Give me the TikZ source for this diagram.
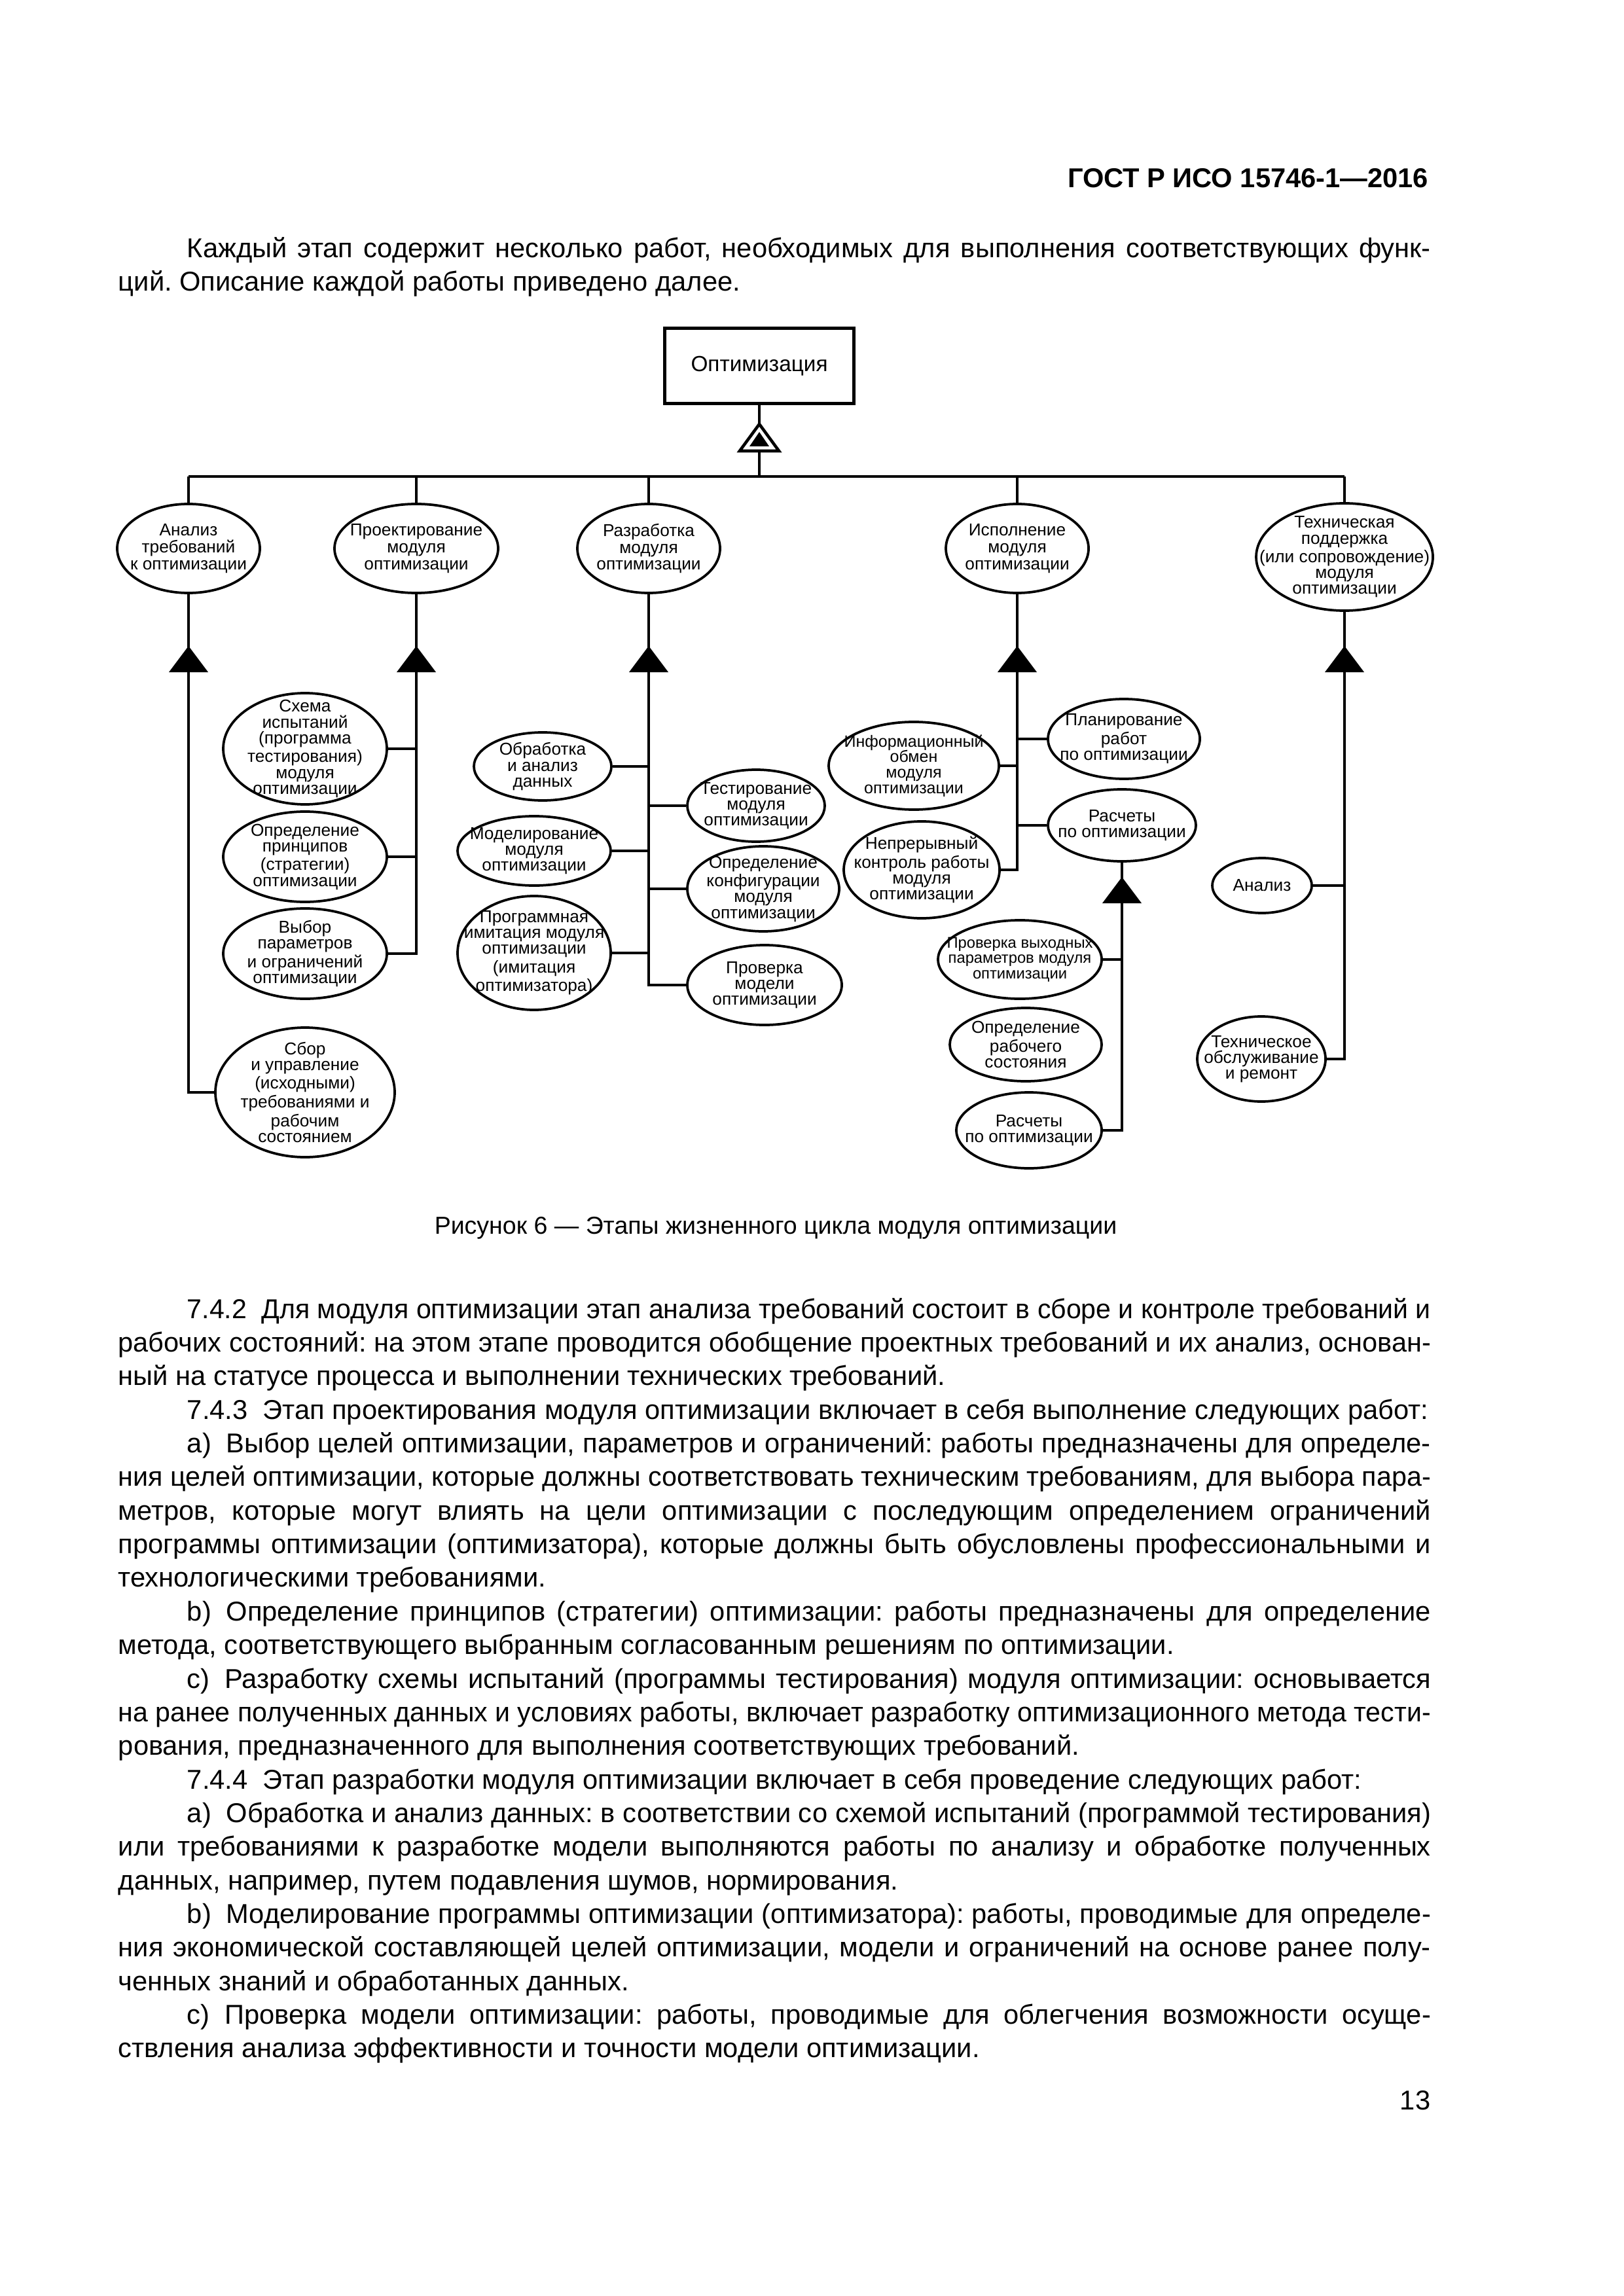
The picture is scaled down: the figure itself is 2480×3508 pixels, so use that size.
\documentclass[tikz,border=0pt]{standalone}
\usepackage{fontspec}
\setmainfont{Liberation Sans}
\usepackage{graphicx}
\usetikzlibrary{shapes.geometric}

\newlength\lw
\newcommand\fitline[2]{\settowidth\lw{#2}\ifdim\lw>#1\relax\resizebox{#1}{\height}{#2}\else\makebox[#1][s]{#2}\fi}
\newcommand\fitlast[2]{\settowidth\lw{#2}\ifdim\lw>#1\relax\resizebox{#1}{\height}{#2}\else#2\fi}
\newcommand\bodyfont{\fontsize{10pt}{12.33pt}\selectfont}
\newcommand\elfont{\fontsize{6.3pt}{5.8pt}\selectfont}
\newcommand\topfont{\fontsize{6.3pt}{6.2pt}\selectfont}
\newcounter{tl}
\newcommand\gap{\hspace{0.55em}}
\frenchspacing

\begin{document}
\begin{tikzpicture}[x=0.24pt,y=-0.24pt,
  ln/.style={line width=1pt},
  ell/.style={ellipse, draw, line width=0.9pt, inner sep=0pt, fill=white},
  etext/.style={align=center, inner sep=0pt, font=\elfont},
  bt/.style={inner sep=0pt, font=\bodyfont, anchor=base west},
]
\useasboundingbox (0,0) rectangle (2480,3508);

\newcommand\E[7][]{\node[ell, minimum width={2*#5*0.24pt}, minimum height={2*#6*0.24pt}] (#2) at (#3,#4) {};
  \node[etext,#1] (#2t) at (#3,#4) {#7};}
\newcommand\Tri[2]{\fill (#1,#2) -- ++(30,40) -- ++(-60,0) -- cycle;}
\newcommand\JL[2]{\stepcounter{tl}\node[bt] (tl\thetl) at (180,#1) {\fitline{481.2pt}{#2}};}
\newcommand\JI[2]{\stepcounter{tl}\node[bt] (tl\thetl) at (285,#1) {\fitline{456pt}{#2}};}
\newcommand\LL[2]{\stepcounter{tl}\node[bt] (tl\thetl) at (180,#1) {\fitlast{481.2pt}{#2}};}
\newcommand\LI[2]{\stepcounter{tl}\node[bt] (tl\thetl) at (285,#1) {\fitlast{456pt}{#2}};}

% header
\node[anchor=base east, inner sep=0pt, font=\bfseries\fontsize{10pt}{12pt}\selectfont] (hdr) at (2183,287) {ГОСТ Р ИСО 15746-1—2016};

\JI{394}{Каждый этап содержит несколько работ, необходимых для выполнения соответствующих функ-}
\LL{445}{ций. Описание каждой работы приведено далее.}

% top box
\node[draw, line width=1.2pt, inner sep=0pt, minimum width={289*0.24pt}, minimum height={115*0.24pt}, font=\fontsize{8pt}{9pt}\selectfont] (opt) at (1160,559.5) {Оптимизация};
\coordinate (tap) at (1160,648);
\coordinate (tbs) at (1160,689);
\coordinate (b0) at (1160,728);
\coordinate (b1) at (288,728);
\coordinate (b2) at (636,728);
\coordinate (b3) at (991,728);
\coordinate (b4) at (1554,728);
\coordinate (b5) at (2054,728);
\draw[ln] (opt.south) -- (tap);
\draw[ln] (tbs) -- (b0);
\draw[ln] (b1) -- (b5);

% level 1 ellipses
\E[font=\topfont]{A1}{288}{838}{109}{68}{Анализ\\требований\\к оптимизации}
\E[font=\topfont]{A2}{636}{838}{125}{68}{Проектирование\\модуля\\оптимизации}
\E[font=\topfont]{A3}{991}{838}{109}{68}{Разработка\\модуля\\оптимизации}
\E[font=\topfont]{A4}{1554}{838}{109}{68}{Исполнение\\модуля\\оптимизации}
\E{A5}{2054}{851}{135}{82}{Техническая\\поддержка\\(или сопровождение)\\модуля\\оптимизации}
\foreach \i in {1,...,5}{\draw[ln] (b\i) -- (A\i.north);}

% column 1 and 2
\E{S1}{466}{1144}{125}{85}{Схема\\испытаний\\(программа\\тестирования)\\модуля\\оптимизации}
\E{S2}{466}{1309}{125}{69}{Определение\\принципов\\(стратегии)\\оптимизации}
\E{S3}{466}{1457}{125}{69}{Выбор\\параметров\\и ограничений\\оптимизации}
\E{S4}{466}{1669}{137}{99}{Сбор\\и управление\\(исходными)\\требованиями и\\рабочим\\состоянием}
\coordinate (j1) at (288,1669);
\coordinate (j2) at (636,1457);
\draw[ln] (A1.south) -- (j1) -- (S4.west);
\draw[ln] (A2.south) -- (j2) -- (S3.east);
\draw[ln] (S1.east) -- (S1.east -| j2);
\draw[ln] (S2.east) -- (S2.east -| j2);

% column 3
\E{D1}{829}{1171}{105}{52}{Обработка\\и анализ\\данных}
\E{D2}{816}{1300}{117}{53}{Моделирование\\модуля\\оптимизации}
\E{D3}{816}{1456}{117}{87}{Программная\\имитация модуля\\оптимизации\\(имитация\\оптимизатора)}
\E{D4}{1155}{1231}{105}{55}{Тестирование\\модуля\\оптимизации}
\E{D5}{1166}{1358}{116}{65}{Определение\\конфигурации\\модуля\\оптимизации}
\E{D6}{1168}{1505}{118}{61}{Проверка\\модели\\оптимизации}
\coordinate (j3) at (991,1505);
\draw[ln] (A3.south) -- (j3) -- (D6.west);
\draw[ln] (D1.east) -- (D1.east -| j3);
\draw[ln] (D2.east) -- (D2.east -| j3);
\draw[ln] (D3.east) -- (D3.east -| j3);
\draw[ln] (D4.west) -- (D4.west -| j3);
\draw[ln] (D5.west) -- (D5.west -| j3);

% column 4
\E[font=\fontsize{6pt}{5.7pt}\selectfont]{I1}{1396}{1170}{130}{67}{Информационный\\обмен\\модуля\\оптимизации}
\E{I2}{1408}{1329}{119}{74}{Непрерывный\\контроль работы\\модуля\\оптимизации}
\E{P1}{1717}{1129}{116}{61}{Планирование\\работ\\по оптимизации}
\E{P2}{1714}{1261}{113}{55}{Расчеты\\по оптимизации}
\coordinate (j4) at (1554,1329);
\draw[ln] (A4.south) -- (j4) -- (I2.east);
\draw[ln] (I1.east) -- (I1.east -| j4);
\draw[ln] (P1.west) -- (P1.west -| j4);
\draw[ln] (P2.west) -- (P2.west -| j4);

\E[font=\fontsize{5.7pt}{5.7pt}\selectfont]{Q1}{1558}{1466}{125}{60}{Проверка выходных\\параметров модуля\\оптимизации}
\E{Q2}{1567}{1596}{116}{56}{Определение\\рабочего\\состояния}
\E{Q3}{1572}{1727}{111}{58}{Расчеты\\по оптимизации}
\coordinate (j6) at (1714,1727);
\draw[ln] (P2.south) -- (j6) -- (Q3.east);
\draw[ln] (Q1.east) -- (Q1.east -| j6);

% column 5
\E{T1}{1928}{1353}{76}{42}{Анализ}
\E{T2}{1927}{1618}{98}{65}{Техническое\\обслуживание\\и ремонт}
\coordinate (j5) at (2054,1618);
\draw[ln] (A5.south) -- (j5) -- (T2.east);
\draw[ln] (T1.east) -- (T1.east -| j5);

% triangles
\draw[line width=1.1pt, fill=white] (1160,648) -- (1190,689) -- (1130,689) -- cycle;
\fill (1160,660) -- (1175,682) -- (1145,682) -- cycle;
\Tri{288}{987}
\Tri{636}{987}
\Tri{991}{987}
\Tri{1554}{987}
\Tri{2054}{987}
\Tri{1714}{1340}

% caption
\node[anchor=base, inner sep=0pt, font=\fontsize{9pt}{11pt}\selectfont] (cap) at (1185,1885) {Рисунок 6 — Этапы жизненного цикла модуля оптимизации};

% body
\JI{2014.0}{7.4.2\gap Для модуля оптимизации этап анализа требований состоит в сборе и контроле требований и}
\JL{2065.4}{рабочих состояний: на этом этапе проводится обобщение проектных требований и их анализ, основан-}
\LL{2116.7}{ный на статусе процесса и выполнении технических требований.}
\LI{2168.1}{7.4.3\gap Этап проектирования модуля оптимизации включает в себя выполнение следующих работ:}
\JI{2219.4}{а)\gap Выбор целей оптимизации, параметров и ограничений: работы предназначены для определе-}
\JL{2270.8}{ния целей оптимизации, которые должны соответствовать техническим требованиям, для выбора пара-}
\JL{2322.2}{метров, которые могут влиять на цели оптимизации с последующим определением ограничений}
\JL{2373.5}{программы оптимизации (оптимизатора), которые должны быть обусловлены профессиональными и}
\LL{2424.9}{технологическими требованиями.}
\JI{2476.2}{b)\gap Определение принципов (стратегии) оптимизации: работы предназначены для определение}
\LL{2527.6}{метода, соответствующего выбранным согласованным решениям по оптимизации.}
\JI{2579.0}{c)\gap Разработку схемы испытаний (программы тестирования) модуля оптимизации: основывается}
\JL{2630.3}{на ранее полученных данных и условиях работы, включает разработку оптимизационного метода тести-}
\LL{2681.7}{рования, предназначенного для выполнения соответствующих требований.}
\LI{2733.0}{7.4.4\gap Этап разработки модуля оптимизации включает в себя проведение следующих работ:}
\JI{2784.4}{a)\gap Обработка и анализ данных: в соответствии со схемой испытаний (программой тестирования)}
\JL{2835.8}{или требованиями к разработке модели выполняются работы по анализу и обработке полученных}
\LL{2887.1}{данных, например, путем подавления шумов, нормирования.}
\JI{2938.5}{b)\gap Моделирование программы оптимизации (оптимизатора): работы, проводимые для определе-}
\JL{2989.8}{ния экономической составляющей целей оптимизации, модели и ограничений на основе ранее полу-}
\LL{3041.2}{ченных знаний и обработанных данных.}
\JI{3092.6}{c)\gap Проверка модели оптимизации: работы, проводимые для облегчения возможности осуще-}
\LL{3143.9}{ствления анализа эффективности и точности модели оптимизации.}

\node[anchor=base east, inner sep=0pt, font=\bodyfont] (pg) at (2186,3223) {13};
\end{tikzpicture}
\end{document}
